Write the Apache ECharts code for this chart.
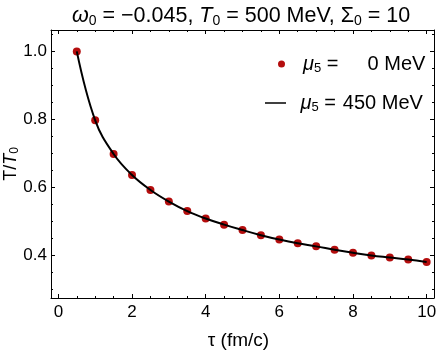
<!DOCTYPE html>
<html><head><meta charset="utf-8">
<script src="https://cdn.jsdelivr.net/npm/echarts@6/dist/echarts.min.js"></script>
<style>html,body{margin:0;padding:0;background:#fff}#c{width:436px;height:354px}</style>
</head><body><div id="c"></div>
<script>
const tau = [0.5,1,1.5,2,2.5,3,3.5,4,4.5,5,5.5,6,6.5,7,7.5,8,8.5,9,9.5,10];
const ratioMu0 = [1.0,0.797,0.698,0.636,0.592,0.558,0.530,0.508,0.490,0.474,0.459,0.446,0.435,0.426,0.416,0.407,0.399,0.393,0.387,0.380];
const ratioMu450 = [1.0,0.797,0.698,0.636,0.592,0.558,0.530,0.508,0.490,0.474,0.459,0.446,0.435,0.426,0.416,0.407,0.399,0.393,0.387,0.380];
const xMajor = [0,2,4,6,8,10];
const xMinor = [0.5,1,1.5,2.5,3,3.5,4.5,5,5.5,6.5,7,7.5,8.5,9,9.5];
const yMajor = [0.4,0.6,0.8,1.0];
const yMinor = [0.3,0.35,0.45,0.5,0.55,0.65,0.7,0.75,0.85,0.9,0.95,1.05];

const FONT = 'Liberation Sans';
const X_MIN = -0.2, X_MAX = 10.2, Y_MIN = 0.274, Y_MAX = 1.063;

function xAx(pos, vals, len, showLine, showLabel, extra) {
  return Object.assign({
    type:'value', position:pos, min:X_MIN, max:X_MAX,
    axisLine:{show:showLine, onZero:false, lineStyle:{color:'#000', width:1}},
    axisTick:{show:true, inside:true, length:len, customValues:vals, lineStyle:{color:'#000', width:1}},
    axisLabel:{show:showLabel, customValues:vals, color:'#000', fontFamily:FONT, fontSize:17, margin:6},
    splitLine:{show:false}
  }, extra||{});
}
function yAx(pos, vals, len, showLine, showLabel, extra) {
  return Object.assign({
    type:'value', position:pos, min:Y_MIN, max:Y_MAX,
    axisLine:{show:showLine, onZero:false, lineStyle:{color:'#000', width:1}},
    axisTick:{show:true, inside:true, length:len, customValues:vals, lineStyle:{color:'#000', width:1}},
    axisLabel:{show:showLabel, customValues:vals, color:'#000', fontFamily:FONT, fontSize:17, margin:4,
      formatter:v=>v.toFixed(1)},
    splitLine:{show:false}
  }, extra||{});
}

const chart = echarts.init(document.getElementById('c'), null, {renderer:'canvas'});
const legRich = (padLeft) => ({
  t:{fontFamily:FONT, fontSize:20, color:'#000'},
  i:{fontFamily:FONT, fontSize:20, fontStyle:'italic', color:'#000', padding:[0,0,0,padLeft]},
  s:{fontFamily:FONT, fontSize:13, color:'#000', padding:[8,0,0,0]},
  v:{fontFamily:FONT, fontSize:20, color:'#000', width:87, align:'right'}
});
chart.setOption({
  animation:false,
  backgroundColor:'#fff',
  title:{
    text:'{i|ω}{s|0}{t| = −0.045, }{i|T}{s|0}{t| = 500 MeV, Σ}{s|0}{t| = 10}',
    left:67, top:0,
    textStyle:{fontWeight:'normal', rich:{
      t:{fontFamily:FONT, fontSize:21.5, fontWeight:'normal', color:'#000'},
      i:{fontFamily:FONT, fontSize:21.5, fontWeight:'normal', fontStyle:'italic', color:'#000'},
      s:{fontFamily:FONT, fontSize:14, fontWeight:'normal', color:'#000', padding:[9,0,0,0]}
    }}
  },
  grid:{left:51, right:2, top:30, bottom:56, containLabel:false, outerBoundsMode:'none'},
  xAxis:[
    xAx('bottom', xMajor, 4, true, true, {
      name:'{t|τ (fm/c)}', nameLocation:'middle', nameGap:33, nameMoveOverlap:false,
      nameTextStyle:{padding:[0,8,0,0], rich:{t:{fontFamily:FONT, fontSize:19, color:'#000'}}}
    }),
    xAx('bottom', xMinor, 2, false, false),
    xAx('top', xMajor, 4, true, false),
    xAx('top', xMinor, 2, false, false)
  ],
  yAxis:[
    yAx('left', yMajor, 4, true, true, {
      name:'{t|T/}{i|T}{s|0}', nameLocation:'middle', nameGap:30, nameMoveOverlap:false,
      nameTextStyle:{rich:{
        t:{fontFamily:FONT, fontSize:18, color:'#000'},
        i:{fontFamily:FONT, fontSize:18, fontStyle:'italic', color:'#000'},
        s:{fontFamily:FONT, fontSize:12, color:'#000', padding:[8,0,0,0]}
      }}
    }),
    yAx('left', yMinor, 2, false, false),
    yAx('right', yMajor, 4, true, false),
    yAx('right', yMinor, 2, false, false)
  ],
  legend:[
    {data:[{name:'mu0', icon:'circle', itemStyle:{color:'#b00000'}}], left:278, top:54, itemWidth:7, itemHeight:7, padding:0,
     formatter:()=>'{i|μ}{s|5}{t| =}{v|0 MeV}',
     textStyle:{rich:legRich(13)}},
    {data:[{name:'mu450', icon:'path://M0,0 L28,0 L28,2 L0,2 Z', itemStyle:{color:'#000', borderWidth:0}}], left:265, top:93, itemWidth:28, itemHeight:1.5, padding:0,
     formatter:()=>'{i|μ}{s|5}{t| =}{v|450 MeV}',
     textStyle:{rich:legRich(6)}}
  ],
  series:[
    {name:'mu0', type:'scatter', xAxisIndex:0, yAxisIndex:0, symbol:'circle', symbolSize:8,
     itemStyle:{color:'#b00000', opacity:0.95}, z:2,
     data:tau.map((t,k)=>[t, ratioMu0[k]])},
    {name:'mu450', type:'line', xAxisIndex:0, yAxisIndex:0, symbol:'none', smooth:0.4,
     itemStyle:{color:'#000'},
     lineStyle:{color:'#000', width:2}, z:3,
     data:tau.map((t,k)=>[t, ratioMu450[k]])}
  ]
});
</script></body></html>
